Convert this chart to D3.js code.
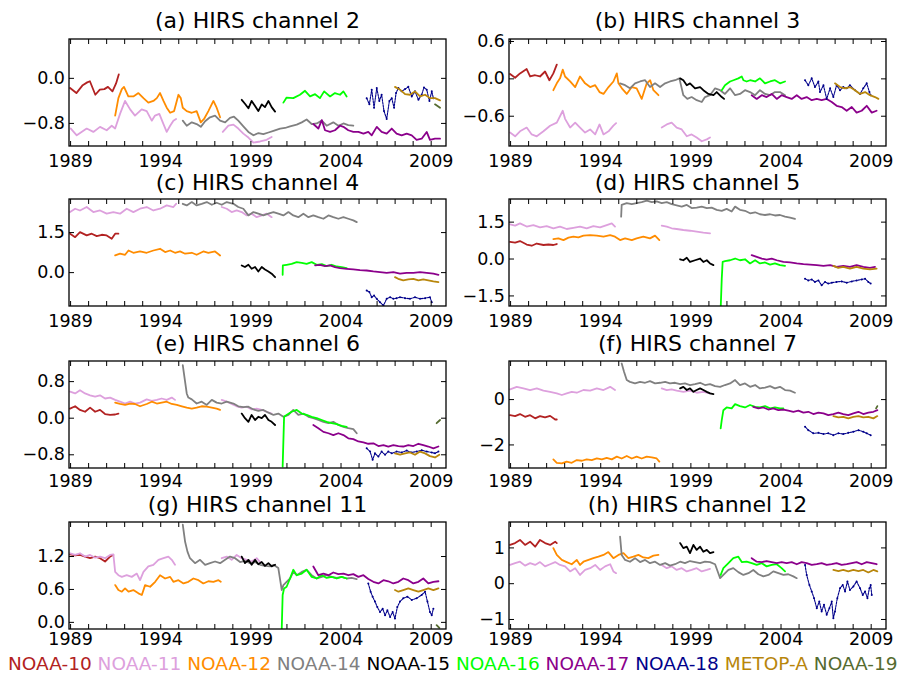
<!DOCTYPE html>
<html>
<head>
<meta charset="utf-8">
<script src="https://cdn.jsdelivr.net/npm/d3@7"></script>
<style>
  body { margin: 0; background: #fff; }
  svg text { font-family: "DejaVu Sans", "Bitstream Vera Sans", sans-serif; }
</style>
</head>
<body>
<svg id="chart" width="900" height="673"></svg>
<script>
var satellites = ["NOAA-10", "NOAA-11", "NOAA-12", "NOAA-14", "NOAA-15", "NOAA-16", "NOAA-17", "NOAA-18", "METOP-A", "NOAA-19"];
var satColors = ["#b22222", "#dda0dd", "#ff8c00", "#808080", "#000000", "#00ff00", "#8b008b", "#00008b", "#b8860b", "#556b2f"];

var panelTitles = ["(a) HIRS channel 2", "(b) HIRS channel 3", "(c) HIRS channel 4", "(d) HIRS channel 5",
                   "(e) HIRS channel 6", "(f) HIRS channel 7", "(g) HIRS channel 11", "(h) HIRS channel 12"];
var yDomains = [[-1.21, 0.69], [-1.086, 0.632], [-1.27, 2.74], [-1.93, 2.42],
                [-1.10, 1.24], [-3.04, 1.68], [-0.13, 1.82], [-1.28, 1.71]];
var yTicks = [[0, -0.8], [0.6, 0, -0.6], [1.5, 0], [1.5, 0, -1.5], [0.8, 0, -0.8], [0, -2], [1.2, 0.6, 0], [1, 0, -1]];
var yTickDecimals = [1, 1, 1, 1, 1, 0, 1, 0];
var xDomain = [1988.94, 2009.85];
var tickYears = d3.range(1989, 2010);
var labelYears = [1989, 1994, 1999, 2004, 2009];

// each series: [satellite, [[year, value], ...]]
var ch2Series = [
  ["NOAA-10", [[1989.0,-0.18],[1989.35,-0.27],[1989.7,-0.13],[1989.95,-0.08],[1990.1,-0.06],[1990.4,-0.30],[1990.65,-0.21],[1990.9,-0.2],[1991.1,-0.16],[1991.35,-0.24],[1991.55,-0.1],[1991.7,0.06]]],
  ["NOAA-11", [[1989.04,-0.90],[1989.37,-1.02],[1989.92,-0.90],[1990.29,-0.96],[1990.66,-0.87],[1991.03,-0.93],[1991.31,-0.85],[1991.5,-0.9],[1991.77,-0.64],[1992.05,-0.41],[1992.33,-0.56],[1992.6,-0.67],[1992.97,-0.56],[1993.25,-0.59],[1993.53,-0.76],[1993.71,-0.67],[1993.95,-0.64],[1994.18,-0.82],[1994.36,-0.96],[1994.55,-0.85],[1994.73,-0.76],[1994.88,-0.73]]],
  ["NOAA-11", [[1997.47,-0.96],[1997.78,-0.85],[1998.06,-0.83],[1998.33,-0.9],[1998.61,-0.99],[1998.89,-1.06],[1999.17,-1.15],[1999.54,-1.13],[1999.9,-1.10],[2000.18,-1.05]]],
  ["NOAA-12", [[1991.5,-0.67],[1991.68,-0.36],[1991.87,-0.2],[1991.99,-0.16],[1992.23,-0.33],[1992.51,-0.33],[1992.79,-0.27],[1993.07,-0.36],[1993.34,-0.44],[1993.62,-0.41],[1993.81,-0.36],[1993.99,-0.27],[1994.18,-0.41],[1994.36,-0.53],[1994.55,-0.62],[1994.77,-0.59],[1995.01,-0.3],[1995.14,-0.36],[1995.25,-0.53],[1995.47,-0.59],[1995.75,-0.62],[1996.02,-0.59],[1996.25,-0.79],[1996.43,-0.73],[1996.67,-0.59],[1996.95,-0.41],[1997.13,-0.53],[1997.32,-0.70]]],
  ["NOAA-14", [[1995.25,-0.76],[1995.47,-0.85],[1995.75,-0.79],[1996.02,-0.82],[1996.25,-0.87],[1996.49,-0.77],[1996.76,-0.70],[1997.04,-0.67],[1997.32,-0.76],[1997.6,-0.79],[1997.87,-0.71],[1998.09,-0.69],[1998.33,-0.76],[1998.61,-0.86],[1998.89,-0.96],[1999.17,-1.02],[1999.45,-0.98],[1999.72,-1.0],[2000.0,-0.97],[2000.28,-0.94],[2000.65,-0.9],[2000.92,-0.89],[2001.2,-0.86],[2001.57,-0.83],[2001.85,-0.79],[2002.12,-0.74],[2002.4,-0.82],[2002.68,-0.81],[2002.96,-0.76],[2003.23,-0.85],[2003.6,-0.79],[2003.88,-0.85],[2004.16,-0.81],[2004.43,-0.84],[2004.71,-0.85]]],
  ["NOAA-15", [[1998.52,-0.39],[1998.7,-0.46],[1998.89,-0.54],[1999.07,-0.41],[1999.26,-0.50],[1999.44,-0.59],[1999.63,-0.47],[1999.81,-0.52],[2000.0,-0.41],[2000.18,-0.52],[2000.37,-0.60]]],
  ["NOAA-16", [[2000.83,-0.44],[2001.01,-0.35],[2001.38,-0.36],[2001.75,-0.30],[2002.03,-0.23],[2002.31,-0.33],[2002.59,-0.29],[2002.86,-0.36],[2003.09,-0.24],[2003.42,-0.33],[2003.69,-0.27],[2003.97,-0.30],[2004.16,-0.24],[2004.34,-0.33]]],
  ["NOAA-17", [[2002.49,-0.82],[2002.77,-0.9],[2002.96,-0.75],[2003.14,-0.93],[2003.42,-0.96],[2003.69,-0.93],[2003.97,-0.85],[2004.16,-0.87],[2004.43,-0.93],[2004.71,-0.96],[2004.99,-0.96],[2005.27,-0.99],[2005.54,-0.96],[2005.73,-1.02],[2006.01,-0.87],[2006.28,-0.96],[2006.56,-0.99],[2006.84,-0.9],[2007.11,-0.99],[2007.39,-1.02],[2007.67,-0.99],[2007.95,-1.02],[2008.22,-1.1],[2008.5,-1.08],[2008.78,-0.96],[2008.96,-1.1],[2009.24,-1.08],[2009.52,-1.08]]],
  ["NOAA-18", [[2005.45,-0.36],[2005.6,-0.47],[2005.73,-0.21],[2005.86,-0.53],[2006.01,-0.18],[2006.15,-0.41],[2006.28,-0.3],[2006.41,-0.59],[2006.56,-0.73],[2006.71,-0.41],[2006.84,-0.36],[2006.97,-0.53],[2007.08,-0.27],[2007.21,-0.18],[2007.39,-0.24],[2007.58,-0.2],[2007.76,-0.16],[2007.95,-0.33],[2008.13,-0.24],[2008.32,-0.39],[2008.5,-0.3],[2008.63,-0.17],[2008.78,-0.21],[2008.93,-0.41],[2009.06,-0.24],[2009.15,-0.36]]],
  ["METOP-A", [[2007.02,-0.16],[2007.3,-0.21],[2007.58,-0.29],[2007.85,-0.3],[2008.13,-0.24],[2008.41,-0.33],[2008.69,-0.3],[2008.96,-0.36],[2009.24,-0.36],[2009.52,-0.4]]],
  ["NOAA-19", [[2009.24,-0.47],[2009.52,-0.53]]]
];

var ch3Series = [
  ["NOAA-10", [[1989.0,0.07],[1989.28,0.01],[1989.55,0.08],[1989.92,0.15],[1990.11,0.03],[1990.39,0.05],[1990.66,0.03],[1990.94,0.11],[1991.18,-0.03],[1991.4,0.08],[1991.59,0.22]]],
  ["NOAA-11", [[1989.0,-0.87],[1989.28,-0.93],[1989.55,-0.85],[1989.92,-0.79],[1990.2,-0.90],[1990.48,-0.93],[1990.85,-0.85],[1991.22,-0.76],[1991.59,-0.71],[1991.92,-0.52],[1992.05,-0.65],[1992.33,-0.79],[1992.61,-0.71],[1992.88,-0.79],[1993.16,-0.87],[1993.44,-0.82],[1993.72,-0.90],[1993.96,-0.74],[1994.18,-0.90],[1994.46,-0.85],[1994.73,-0.76],[1994.88,-0.72]]],
  ["NOAA-11", [[1997.41,-0.79],[1997.69,-0.74],[1997.96,-0.71],[1998.24,-0.79],[1998.52,-0.82],[1998.8,-0.93],[1999.07,-0.90],[1999.35,-0.95],[1999.63,-1.01],[1999.91,-0.98],[2000.09,-0.95]]],
  ["NOAA-12", [[1991.4,-0.19],[1991.59,-0.08],[1991.77,0],[1991.92,0.14],[1992.05,0.03],[1992.33,-0.05],[1992.61,-0.14],[1992.88,0.03],[1993.16,-0.08],[1993.44,-0.14],[1993.72,-0.11],[1993.96,-0.22],[1994.18,-0.25],[1994.46,-0.14],[1994.73,-0.05],[1994.92,0.08],[1995.01,-0.08],[1995.2,-0.16],[1995.47,-0.25],[1995.75,-0.14],[1996.02,-0.16],[1996.3,-0.33],[1996.58,-0.08],[1996.77,-0.03],[1996.95,-0.19],[1997.23,-0.27]]],
  ["NOAA-14", [[1995.1,-0.08],[1995.38,-0.11],[1995.65,-0.16],[1995.93,-0.08],[1996.21,-0.05],[1996.49,-0.03],[1996.76,-0.14],[1997.04,-0.08],[1997.32,-0.14],[1997.6,-0.08],[1997.87,-0.05],[1998.15,-0.03],[1998.39,0],[1998.61,-0.27],[1998.83,-0.33],[1999.07,-0.30],[1999.35,-0.35],[1999.63,-0.38],[1999.81,-0.3],[2000.09,-0.27],[2000.37,-0.16],[2000.65,-0.19],[2000.92,-0.25],[2001.2,-0.16],[2001.48,-0.27],[2001.75,-0.25],[2002.03,-0.19],[2002.31,-0.22],[2002.59,-0.27],[2002.86,-0.19],[2003.14,-0.25],[2003.42,-0.27],[2003.69,-0.22],[2003.97,-0.22],[2004.25,-0.27]]],
  ["NOAA-15", [[1998.43,0],[1998.61,-0.03],[1998.8,-0.11],[1998.98,-0.08],[1999.26,-0.16],[1999.54,-0.14],[1999.72,-0.19],[2000.0,-0.25],[2000.28,-0.27],[2000.46,-0.22],[2000.74,-0.3],[2000.87,-0.33]]],
  ["NOAA-16", [[2000.74,-0.19],[2000.92,-0.11],[2001.2,-0.05],[2001.39,-0.03],[2001.66,0],[2001.85,0.03],[2001.94,-0.03],[2002.12,-0.05],[2002.31,-0.03],[2002.59,-0.05],[2002.86,0],[2003.14,-0.08],[2003.42,-0.05],[2003.69,-0.03],[2003.97,-0.08],[2004.25,-0.05]]],
  ["NOAA-17", [[2002.4,-0.27],[2002.68,-0.33],[2002.96,-0.27],[2003.23,-0.3],[2003.51,-0.25],[2003.79,-0.33],[2004.06,-0.27],[2004.34,-0.3],[2004.62,-0.33],[2004.9,-0.27],[2005.17,-0.33],[2005.45,-0.3],[2005.73,-0.35],[2006.01,-0.33],[2006.28,-0.35],[2006.56,-0.33],[2006.84,-0.38],[2007.11,-0.44],[2007.39,-0.46],[2007.67,-0.52],[2007.95,-0.46],[2008.22,-0.55],[2008.5,-0.52],[2008.78,-0.44],[2009.06,-0.55],[2009.33,-0.52]]],
  ["NOAA-18", [[2005.36,-0.03],[2005.54,-0.11],[2005.73,0],[2005.91,-0.14],[2006.1,-0.05],[2006.19,-0.22],[2006.38,-0.11],[2006.56,-0.33],[2006.75,-0.16],[2006.93,-0.3],[2007.11,-0.11],[2007.3,-0.19],[2007.48,-0.14],[2007.67,-0.16],[2007.85,-0.11],[2008.13,-0.19],[2008.41,-0.25],[2008.59,-0.16],[2008.78,-0.08],[2008.93,-0.22],[2009.0,-0.27]]],
  ["METOP-A", [[2007.02,-0.08],[2007.3,-0.14],[2007.58,-0.16],[2007.85,-0.14],[2008.13,-0.19],[2008.41,-0.25],[2008.69,-0.22],[2008.96,-0.27],[2009.24,-0.3],[2009.43,-0.33]]]
];

var ch4Series = [
  ["NOAA-10", [[1989.0,1.44],[1989.28,1.31],[1989.55,1.5],[1989.92,1.375],[1990.2,1.44],[1990.48,1.35],[1990.76,1.4],[1991.03,1.375],[1991.31,1.25],[1991.5,1.44],[1991.68,1.44]]],
  ["NOAA-11", [[1989.0,2.25],[1989.28,2.375],[1989.55,2.31],[1989.92,2.44],[1990.29,2.25],[1990.66,2.31],[1991.03,2.19],[1991.4,2.25],[1991.77,2.19],[1992.14,2.375],[1992.51,2.25],[1992.88,2.375],[1993.25,2.44],[1993.62,2.31],[1993.99,2.375],[1994.36,2.5],[1994.73,2.44],[1994.88,2.56]]],
  ["NOAA-11", [[1997.41,2.44],[1997.69,2.375],[1997.96,2.25],[1998.24,2.31],[1998.52,2.25],[1998.8,2.125],[1999.07,2.19],[1999.35,2.06],[1999.63,2.125],[1999.91,2.19],[2000.18,2.06]]],
  ["NOAA-12", [[1991.5,0.625],[1991.77,0.69],[1992.05,0.65],[1992.24,0.81],[1992.51,0.725],[1992.88,0.775],[1993.25,0.725],[1993.62,0.81],[1993.99,0.875],[1994.27,0.75],[1994.55,0.81],[1994.82,0.725],[1995.1,0.775],[1995.38,0.69],[1995.75,0.725],[1996.02,0.65],[1996.39,0.775],[1996.67,0.725],[1997.04,0.775],[1997.32,0.625]]],
  ["NOAA-14", [[1995.25,2.56],[1995.47,2.5],[1995.75,2.625],[1996.02,2.5],[1996.3,2.56],[1996.58,2.625],[1996.86,2.525],[1997.13,2.6],[1997.41,2.525],[1997.69,2.625],[1998.06,2.56],[1998.33,2.44],[1998.61,2.375],[1998.89,2.125],[1999.17,2.25],[1999.44,2.19],[1999.72,2.125],[2000.0,2.19],[2000.28,2.25],[2000.55,2.19],[2000.83,2.125],[2001.11,2.25],[2001.38,2.125],[2001.66,2.06],[2001.94,2.19],[2002.22,2.06],[2002.49,2.125],[2002.77,2.06],[2003.05,2.0],[2003.33,2.125],[2003.6,2.06],[2003.88,2.0],[2004.16,2.06],[2004.43,2.0],[2004.71,1.94],[2004.9,1.875]]],
  ["NOAA-15", [[1998.52,0.25],[1998.7,0.19],[1998.89,0.275],[1999.07,0.125],[1999.26,0.19],[1999.44,0.025],[1999.63,0.19],[1999.81,0.1],[2000.0,0.025],[2000.18,-0.06],[2000.37,-0.19]]],
  ["NOAA-16", [[2000.79,-0.1],[2000.8,0.25],[2001.01,0.275],[2001.29,0.31],[2001.57,0.375],[2001.85,0.35],[2002.12,0.31],[2002.4,0.375],[2002.68,0.275],[2002.96,0.3],[2003.23,0.225],[2003.51,0.275],[2003.79,0.21],[2004.06,0.19],[2004.34,0.15]]],
  ["NOAA-17", [[2002.59,0.25],[2002.86,0.275],[2003.14,0.225],[2003.42,0.25],[2003.69,0.19],[2003.97,0.15],[2004.34,0.125],[2004.71,0.1],[2005.08,0.075],[2005.45,0.06],[2005.82,0.025],[2006.19,0],[2006.56,-0.025],[2006.93,0],[2007.3,-0.06],[2007.67,-0.025],[2008.04,-0.025],[2008.41,0],[2008.78,-0.025],[2009.15,-0.06],[2009.43,-0.1]]],
  ["NOAA-18", [[2005.45,-0.69],[2005.6,-0.75],[2005.73,-0.94],[2005.86,-0.875],[2006.01,-1.0],[2006.19,-1.125],[2006.38,-1.25],[2006.56,-1.0],[2006.75,-0.94],[2006.93,-1.0],[2007.11,-0.975],[2007.3,-0.94],[2007.58,-0.975],[2007.85,-1.0],[2008.13,-0.94],[2008.41,-1.0],[2008.69,-0.975],[2008.96,-0.94],[2009.06,-1.125]]],
  ["METOP-A", [[2007.02,-0.19],[2007.2,-0.25],[2007.48,-0.31],[2007.76,-0.275],[2008.04,-0.25],[2008.32,-0.31],[2008.59,-0.275],[2008.87,-0.31],[2009.15,-0.35],[2009.43,-0.375]]]
];

var ch5Series = [
  ["NOAA-10", [[1989.0,0.68],[1989.28,0.65],[1989.55,0.71],[1989.92,0.57],[1990.2,0.52],[1990.48,0.61],[1990.85,0.55],[1991.13,0.57],[1991.4,0.55],[1991.59,0.59]]],
  ["NOAA-11", [[1989.0,1.39],[1989.28,1.34],[1989.55,1.43],[1989.92,1.3],[1990.29,1.36],[1990.66,1.27],[1991.03,1.32],[1991.4,1.23],[1991.77,1.3],[1992.14,1.2],[1992.51,1.25],[1992.88,1.3],[1993.25,1.23],[1993.62,1.32],[1993.99,1.27],[1994.36,1.36],[1994.64,1.43],[1994.82,1.3]]],
  ["NOAA-11", [[1997.41,1.34],[1997.69,1.3],[1997.96,1.23],[1998.24,1.2],[1998.61,1.16],[1998.98,1.13],[1999.35,1.09],[1999.72,1.05],[2000.09,1.02]]],
  ["NOAA-12", [[1991.4,0.79],[1991.68,0.82],[1991.96,0.75],[1992.24,0.85],[1992.51,0.89],[1992.79,0.86],[1993.07,0.93],[1993.44,0.95],[1993.81,0.93],[1994.18,0.89],[1994.55,0.95],[1994.82,0.89],[1995.1,0.75],[1995.38,0.82],[1995.75,0.75],[1996.02,0.82],[1996.39,0.89],[1996.76,0.82],[1997.04,0.93],[1997.28,0.75]]],
  ["NOAA-14", [[1995.16,1.7],[1995.19,2.18],[1995.47,2.25],[1995.75,2.21],[1996.02,2.25],[1996.3,2.29],[1996.58,2.35],[1996.86,2.29],[1997.13,2.32],[1997.41,2.25],[1997.69,2.29],[1997.96,2.21],[1998.24,2.16],[1998.52,2.11],[1998.8,2.18],[1999.07,2.05],[1999.35,2.07],[1999.63,2.11],[1999.91,2.05],[2000.18,2.07],[2000.46,1.98],[2000.74,1.94],[2001.01,2.02],[2001.29,1.91],[2001.48,2.11],[2001.75,1.98],[2002.03,1.94],[2002.31,1.84],[2002.59,1.88],[2002.86,1.8],[2003.14,1.77],[2003.42,1.8],[2003.69,1.75],[2003.97,1.77],[2004.25,1.7],[2004.53,1.66],[2004.8,1.61]]],
  ["NOAA-15", [[1998.43,-0.03],[1998.61,-0.07],[1998.8,0.03],[1998.98,-0.14],[1999.26,-0.07],[1999.54,0],[1999.72,-0.14],[1999.91,-0.07],[2000.09,-0.2],[2000.28,-0.27]]],
  ["NOAA-16", [[2000.68,-2.05],[2000.74,-0.82],[2000.79,-0.14],[2000.92,-0.11],[2001.2,-0.07],[2001.48,0],[2001.75,-0.07],[2002.03,-0.03],[2002.31,-0.2],[2002.59,-0.07],[2002.86,-0.2],[2003.14,-0.16],[2003.42,-0.25],[2003.69,-0.2],[2003.97,-0.27],[2004.25,-0.3]]],
  ["NOAA-17", [[2002.4,0.14],[2002.68,0.07],[2002.96,0],[2003.23,-0.04],[2003.51,0],[2003.79,-0.07],[2004.16,-0.14],[2004.53,-0.16],[2004.9,-0.2],[2005.27,-0.23],[2005.64,-0.25],[2006.01,-0.27],[2006.38,-0.3],[2006.75,-0.27],[2007.11,-0.34],[2007.48,-0.3],[2007.85,-0.34],[2008.22,-0.27],[2008.59,-0.34],[2008.96,-0.38],[2009.24,-0.34]]],
  ["NOAA-18", [[2005.36,-0.82],[2005.54,-0.89],[2005.73,-0.85],[2005.91,-0.95],[2006.1,-0.89],[2006.28,-1.09],[2006.47,-0.95],[2006.65,-1.02],[2006.84,-0.98],[2007.11,-0.95],[2007.39,-0.93],[2007.67,-0.98],[2007.95,-0.93],[2008.22,-0.89],[2008.5,-0.85],[2008.69,-0.82],[2008.87,-0.95],[2009.0,-1.02]]],
  ["METOP-A", [[2006.93,-0.3],[2007.2,-0.38],[2007.48,-0.34],[2007.85,-0.41],[2008.22,-0.34],[2008.59,-0.41],[2008.96,-0.44],[2009.33,-0.41]]]
];

var ch6Series = [
  ["NOAA-10", [[1989.0,0.2],[1989.28,0.25],[1989.55,0.17],[1989.83,0.13],[1990.11,0.22],[1990.39,0.13],[1990.66,0.17],[1990.94,0.08],[1991.22,0.06],[1991.5,0.07],[1991.68,0.09]]],
  ["NOAA-11", [[1989.0,0.57],[1989.28,0.53],[1989.55,0.6],[1989.83,0.53],[1990.11,0.49],[1990.39,0.46],[1990.66,0.49],[1990.94,0.42],[1991.22,0.44],[1991.5,0.39],[1991.77,0.35],[1992.05,0.31],[1992.33,0.35],[1992.6,0.31],[1992.88,0.33],[1993.25,0.4],[1993.53,0.37],[1993.81,0.39],[1994.08,0.42],[1994.36,0.39],[1994.64,0.44],[1994.82,0.39]]],
  ["NOAA-11", [[1997.41,0.39],[1997.69,0.35],[1997.96,0.3],[1998.24,0.25],[1998.52,0.22],[1998.8,0.24],[1999.07,0.18],[1999.35,0.2],[1999.63,0.17],[1999.91,0.13],[2000.18,0.09]]],
  ["NOAA-12", [[1991.5,0.33],[1991.77,0.3],[1992.05,0.28],[1992.33,0.31],[1992.6,0.3],[1992.88,0.25],[1993.25,0.3],[1993.53,0.35],[1993.81,0.31],[1994.08,0.33],[1994.36,0.35],[1994.64,0.3],[1994.92,0.28],[1995.2,0.25],[1995.47,0.22],[1995.75,0.2],[1996.02,0.22],[1996.3,0.25],[1996.58,0.24],[1996.86,0.22],[1997.13,0.2],[1997.32,0.17]]],
  ["NOAA-14", [[1995.25,1.15],[1995.47,0.53],[1995.56,0.44],[1995.75,0.4],[1996.02,0.31],[1996.3,0.35],[1996.58,0.28],[1996.86,0.39],[1997.13,0.33],[1997.41,0.31],[1997.69,0.35],[1998.06,0.31],[1998.33,0.25],[1998.61,0.23],[1998.89,0.24],[1999.17,0.18],[1999.44,0.15],[1999.72,0.17],[2000.0,0.11],[2000.28,0.06],[2000.55,0.09],[2000.83,0.02],[2001.11,0.06],[2001.38,0.17],[2001.66,0.06],[2001.94,0.09],[2002.22,0.02],[2002.49,-0.01],[2002.77,-0.05],[2003.05,-0.09],[2003.33,-0.12],[2003.6,-0.09],[2003.88,-0.16],[2004.16,-0.2],[2004.43,-0.23],[2004.71,-0.25],[2004.9,-0.34]]],
  ["NOAA-15", [[1998.52,0.09],[1998.7,-0.01],[1998.89,-0.09],[1999.07,0.06],[1999.26,-0.05],[1999.44,0.02],[1999.63,-0.01],[1999.81,0.06],[2000.0,-0.05],[2000.18,-0.09],[2000.37,-0.16]]],
  ["NOAA-16", [[2000.79,-1.07],[2000.87,0.02],[2001.01,0.06],[2001.29,0.13],[2001.57,0.17],[2001.85,0.09],[2002.12,0.06],[2002.4,0.02],[2002.68,-0.01],[2002.96,-0.05],[2003.23,-0.09],[2003.51,-0.12],[2003.79,-0.14],[2004.06,-0.18],[2004.34,-0.2]]],
  ["NOAA-17", [[2002.49,-0.16],[2002.77,-0.23],[2003.05,-0.31],[2003.33,-0.34],[2003.6,-0.38],[2003.88,-0.34],[2004.16,-0.38],[2004.43,-0.45],[2004.71,-0.47],[2004.99,-0.52],[2005.27,-0.54],[2005.54,-0.57],[2005.82,-0.56],[2006.1,-0.62],[2006.38,-0.6],[2006.65,-0.63],[2006.93,-0.6],[2007.21,-0.62],[2007.48,-0.63],[2007.76,-0.6],[2008.04,-0.62],[2008.32,-0.57],[2008.59,-0.6],[2008.87,-0.63],[2009.15,-0.67],[2009.43,-0.63]]],
  ["NOAA-18", [[2005.45,-0.67],[2005.64,-0.74],[2005.78,-0.92],[2005.91,-0.78],[2006.1,-0.85],[2006.28,-0.74],[2006.47,-0.81],[2006.65,-0.74],[2006.84,-0.78],[2007.11,-0.74],[2007.39,-0.76],[2007.67,-0.72],[2007.95,-0.76],[2008.22,-0.74],[2008.5,-0.71],[2008.78,-0.74],[2009.06,-0.76],[2009.24,-0.78],[2009.43,-0.74]]],
  ["METOP-A", [[2007.02,-0.78],[2007.3,-0.81],[2007.58,-0.78],[2007.85,-0.76],[2008.13,-0.81],[2008.41,-0.74],[2008.69,-0.78],[2008.96,-0.84],[2009.24,-0.87],[2009.48,-0.81]]],
  ["NOAA-19", [[2009.33,-0.12],[2009.52,-0.05]]]
];

var ch7Series = [
  ["NOAA-10", [[1989.0,-0.71],[1989.28,-0.75],[1989.55,-0.66],[1989.83,-0.78],[1990.11,-0.71],[1990.39,-0.85],[1990.66,-0.75],[1990.94,-0.81],[1991.22,-0.74],[1991.5,-0.9],[1991.59,-0.9]]],
  ["NOAA-11", [[1989.0,0.43],[1989.37,0.54],[1989.74,0.47],[1990.11,0.4],[1990.48,0.47],[1990.85,0.37],[1991.22,0.32],[1991.59,0.25],[1991.87,0.18],[1992.14,0.25],[1992.42,0.32],[1992.7,0.28],[1993.07,0.4],[1993.44,0.37],[1993.81,0.47],[1994.18,0.4],[1994.55,0.54],[1994.82,0.4]]],
  ["NOAA-11", [[1997.41,0.47],[1997.69,0.4],[1997.96,0.43],[1998.24,0.37],[1998.61,0.32],[1998.98,0.37],[1999.35,0.28],[1999.72,0.32],[2000.09,0.25]]],
  ["NOAA-12", [[1991.4,-2.66],[1991.59,-2.81],[1991.87,-2.84],[1992.14,-2.76],[1992.42,-2.81],[1992.7,-2.69],[1992.98,-2.72],[1993.25,-2.66],[1993.53,-2.69],[1993.81,-2.62],[1994.09,-2.66],[1994.36,-2.59],[1994.64,-2.66],[1994.92,-2.54],[1995.19,-2.62],[1995.47,-2.51],[1995.75,-2.62],[1996.02,-2.54],[1996.3,-2.62],[1996.58,-2.54],[1996.86,-2.57],[1997.13,-2.62],[1997.28,-2.76]]],
  ["NOAA-14", [[1995.19,1.57],[1995.32,1.21],[1995.47,0.84],[1995.65,0.76],[1995.93,0.69],[1996.21,0.76],[1996.49,0.72],[1996.76,0.79],[1997.04,0.69],[1997.32,0.72],[1997.6,0.76],[1997.87,0.69],[1998.15,0.72],[1998.43,0.66],[1998.7,0.69],[1998.98,0.62],[1999.26,0.66],[1999.54,0.72],[1999.81,0.62],[2000.09,0.66],[2000.37,0.57],[2000.65,0.54],[2000.92,0.62],[2001.2,0.69],[2001.48,0.84],[2001.75,0.62],[2002.03,0.69],[2002.31,0.54],[2002.59,0.62],[2002.86,0.47],[2003.14,0.51],[2003.42,0.57],[2003.69,0.47],[2003.97,0.54],[2004.25,0.4],[2004.53,0.37],[2004.8,0.28]]],
  ["NOAA-15", [[1998.43,0.47],[1998.61,0.54],[1998.8,0.4],[1998.98,0.47],[1999.17,0.32],[1999.35,0.4],[1999.54,0.47],[1999.72,0.4],[1999.91,0.32],[2000.09,0.25],[2000.28,0.22]]],
  ["NOAA-16", [[2000.68,-1.29],[2000.74,-0.93],[2000.83,-0.49],[2001.01,-0.37],[2001.29,-0.41],[2001.48,-0.22],[2001.75,-0.31],[2002.03,-0.37],[2002.31,-0.26],[2002.59,-0.34],[2002.86,-0.37],[2003.14,-0.31],[2003.42,-0.41],[2003.69,-0.37],[2003.97,-0.41],[2004.16,-0.41]]],
  ["NOAA-17", [[2002.49,-0.34],[2002.77,-0.41],[2003.05,-0.37],[2003.32,-0.46],[2003.6,-0.41],[2003.88,-0.49],[2004.16,-0.46],[2004.43,-0.51],[2004.71,-0.56],[2004.99,-0.51],[2005.27,-0.6],[2005.54,-0.56],[2005.82,-0.66],[2006.1,-0.6],[2006.38,-0.63],[2006.65,-0.71],[2006.93,-0.66],[2007.21,-0.6],[2007.48,-0.66],[2007.76,-0.71],[2008.04,-0.63],[2008.32,-0.56],[2008.59,-0.66],[2008.87,-0.6],[2009.15,-0.56],[2009.37,-0.49]]],
  ["NOAA-18", [[2005.36,-1.22],[2005.54,-1.37],[2005.82,-1.51],[2006.1,-1.49],[2006.38,-1.54],[2006.65,-1.51],[2006.93,-1.59],[2007.21,-1.51],[2007.48,-1.54],[2007.76,-1.49],[2008.04,-1.44],[2008.32,-1.37],[2008.59,-1.44],[2008.78,-1.51],[2009.0,-1.59]]],
  ["METOP-A", [[2006.93,-0.75],[2007.21,-0.81],[2007.48,-0.78],[2007.76,-0.85],[2008.04,-0.78],[2008.32,-0.75],[2008.59,-0.81],[2008.87,-0.78],[2009.15,-0.85],[2009.37,-0.75]]],
  ["NOAA-19", [[2009.3,-0.41],[2009.37,-0.31]]]
];

var ch11Series = [
  ["NOAA-10", [[1989.0,1.23],[1989.28,1.21],[1989.55,1.22],[1989.83,1.19],[1990.11,1.16],[1990.39,1.19],[1990.66,1.16],[1990.94,1.1],[1991.22,1.19],[1991.4,1.22]]],
  ["NOAA-11", [[1989.0,1.25],[1989.28,1.22],[1989.55,1.25],[1989.83,1.19],[1990.11,1.22],[1990.39,1.17],[1990.66,1.19],[1990.94,1.16],[1991.22,1.22],[1991.4,1.23],[1991.5,0.91],[1991.68,0.85],[1991.87,0.82],[1992.14,0.85],[1992.42,0.82],[1992.7,0.88],[1992.88,0.76],[1993.07,0.91],[1993.34,1.01],[1993.62,1.04],[1993.9,1.13],[1994.18,1.16],[1994.45,1.19],[1994.64,1.13],[1994.82,1.04]]],
  ["NOAA-11", [[1997.41,1.16],[1997.69,1.19],[1997.96,1.13],[1998.24,1.22],[1998.52,1.16],[1998.8,1.13],[1999.07,1.1],[1999.35,1.16],[1999.54,1.09]]],
  ["NOAA-12", [[1991.5,0.67],[1991.68,0.58],[1991.87,0.55],[1992.05,0.61],[1992.24,0.55],[1992.51,0.58],[1992.79,0.52],[1992.98,0.49],[1993.16,0.67],[1993.44,0.64],[1993.72,0.73],[1993.99,0.85],[1994.27,0.79],[1994.55,0.82],[1994.73,0.73],[1995.01,0.76],[1995.29,0.7],[1995.56,0.73],[1995.84,0.79],[1996.12,0.76],[1996.39,0.7],[1996.67,0.74],[1996.95,0.73],[1997.23,0.76],[1997.36,0.73]]],
  ["NOAA-14", [[1995.25,1.77],[1995.38,1.46],[1995.51,1.28],[1995.65,1.16],[1995.93,1.07],[1996.21,1.13],[1996.49,1.04],[1996.76,1.07],[1997.04,1.1],[1997.32,1.07],[1997.6,1.13],[1997.87,1.19],[1998.15,1.16],[1998.43,1.09],[1998.7,1.11],[1998.98,1.07],[1999.26,1.09],[1999.54,1.04],[1999.81,1.02],[2000.09,1.01],[2000.28,1.04],[2000.55,0.98],[2000.74,0.58],[2000.83,0.67],[2001.01,0.73],[2001.2,0.79],[2001.38,0.91],[2001.57,0.85],[2001.85,0.91],[2002.12,0.95],[2002.4,0.85],[2002.68,0.79],[2002.96,0.82],[2003.23,0.85],[2003.51,0.82],[2003.79,0.8],[2004.06,0.82],[2004.34,0.79],[2004.62,0.8],[2004.9,0.78]]],
  ["NOAA-15", [[1998.52,1.19],[1998.7,1.07],[1998.89,1.13],[1999.07,1.04],[1999.26,1.13],[1999.44,1.05],[1999.63,1.09],[1999.81,1.02],[2000.0,1.07],[2000.18,1.01],[2000.37,1.04]]],
  ["NOAA-16", [[2000.74,-0.12],[2000.79,0.49],[2000.87,0.61],[2001.01,0.64],[2001.2,0.79],[2001.38,0.95],[2001.57,0.85],[2001.85,0.88],[2002.12,0.95],[2002.4,0.82],[2002.68,0.79],[2002.96,0.85],[2003.23,0.8],[2003.51,0.82],[2003.79,0.79],[2004.06,0.82],[2004.34,0.79]]],
  ["NOAA-17", [[2002.49,1.01],[2002.77,0.85],[2003.05,0.88],[2003.33,0.85],[2003.6,0.9],[2003.88,0.87],[2004.16,0.88],[2004.43,0.85],[2004.71,0.87],[2004.99,0.82],[2005.27,0.85],[2005.54,0.78],[2005.82,0.73],[2006.1,0.7],[2006.38,0.76],[2006.65,0.74],[2006.93,0.7],[2007.21,0.73],[2007.48,0.79],[2007.76,0.76],[2008.04,0.7],[2008.32,0.73],[2008.59,0.79],[2008.87,0.7],[2009.15,0.73],[2009.43,0.74]]],
  ["NOAA-18", [[2005.54,0.7],[2005.67,0.55],[2005.78,0.46],[2005.91,0.37],[2006.04,0.27],[2006.19,0.18],[2006.34,0.24],[2006.47,0.12],[2006.6,0.21],[2006.75,0.09],[2006.89,0.18],[2007.02,0.06],[2007.15,0.27],[2007.3,0.37],[2007.48,0.43],[2007.71,0.46],[2007.95,0.4],[2008.22,0.43],[2008.5,0.49],[2008.69,0.55],[2008.82,0.37],[2008.96,0.18],[2009.06,0.12],[2009.15,0.24]]],
  ["METOP-A", [[2007.02,0.58],[2007.21,0.55],[2007.48,0.58],[2007.76,0.61],[2008.04,0.58],[2008.32,0.55],[2008.59,0.58],[2008.87,0.61],[2009.15,0.58],[2009.43,0.61]]],
  ["NOAA-19", [[2009.33,-0.06],[2009.48,-0.11]]]
];

var ch12Series = [
  ["NOAA-10", [[1989.0,1.07],[1989.28,1.12],[1989.55,1.21],[1989.83,1.07],[1990.11,1.16],[1990.39,1.02],[1990.66,1.21],[1990.94,1.12],[1991.22,1.07],[1991.5,1.16],[1991.59,1.12]]],
  ["NOAA-11", [[1989.0,0.51],[1989.28,0.56],[1989.55,0.6],[1989.83,0.49],[1990.11,0.56],[1990.39,0.51],[1990.66,0.59],[1990.94,0.47],[1991.22,0.53],[1991.5,0.59],[1991.77,0.51],[1992.05,0.47],[1992.33,0.33],[1992.61,0.42],[1992.88,0.23],[1993.16,0.37],[1993.44,0.42],[1993.72,0.51],[1993.99,0.37],[1994.27,0.47],[1994.55,0.53],[1994.73,0.33],[1994.88,0.28]]],
  ["NOAA-11", [[1997.41,0.51],[1997.69,0.42],[1997.96,0.47],[1998.24,0.37],[1998.52,0.42],[1998.8,0.33],[1999.07,0.37],[1999.35,0.42],[1999.63,0.33],[1999.91,0.37],[2000.09,0.4]]],
  ["NOAA-12", [[1991.4,0.98],[1991.59,0.79],[1991.87,0.65],[1992.14,0.59],[1992.42,0.53],[1992.7,0.65],[1992.88,0.51],[1993.07,0.6],[1993.35,0.65],[1993.62,0.7],[1993.9,0.74],[1994.18,0.79],[1994.45,0.87],[1994.73,0.7],[1995.01,0.79],[1995.29,0.84],[1995.56,0.7],[1995.84,0.74],[1996.12,0.79],[1996.39,0.72],[1996.67,0.7],[1996.95,0.77],[1997.23,0.79]]],
  ["NOAA-14", [[1995.1,1.3],[1995.19,0.79],[1995.38,0.65],[1995.65,0.6],[1995.93,0.7],[1996.21,0.59],[1996.49,0.65],[1996.76,0.56],[1997.04,0.6],[1997.32,0.51],[1997.6,0.56],[1997.87,0.49],[1998.15,0.53],[1998.43,0.6],[1998.7,0.56],[1998.98,0.62],[1999.26,0.59],[1999.54,0.56],[1999.81,0.6],[2000.09,0.59],[2000.37,0.53],[2000.65,0.14],[2000.83,0.23],[2001.11,0.37],[2001.38,0.42],[2001.66,0.31],[2001.94,0.23],[2002.22,0.28],[2002.49,0.37],[2002.77,0.25],[2003.05,0.19],[2003.33,0.23],[2003.6,0.33],[2003.88,0.28],[2004.16,0.23],[2004.43,0.25],[2004.71,0.19],[2004.9,0.14]]],
  ["NOAA-15", [[1998.43,1.12],[1998.61,0.98],[1998.8,1.02],[1998.98,0.84],[1999.17,1.07],[1999.35,0.93],[1999.54,1.02],[1999.72,0.88],[1999.91,0.93],[2000.09,0.84],[2000.28,0.87]]],
  ["NOAA-16", [[2000.68,0.23],[2000.83,0.42],[2001.11,0.56],[2001.38,0.7],[2001.66,0.74],[2001.85,0.59],[2002.12,0.6],[2002.4,0.56],[2002.68,0.51],[2002.96,0.56],[2003.23,0.47],[2003.51,0.51],[2003.79,0.53],[2004.06,0.42],[2004.25,0.33]]],
  ["NOAA-17", [[2002.4,0.7],[2002.68,0.6],[2002.96,0.59],[2003.23,0.62],[2003.51,0.59],[2003.79,0.56],[2004.06,0.59],[2004.34,0.56],[2004.62,0.59],[2004.9,0.53],[2005.17,0.59],[2005.45,0.56],[2005.73,0.51],[2006.01,0.53],[2006.28,0.56],[2006.56,0.51],[2006.84,0.53],[2007.11,0.56],[2007.39,0.51],[2007.67,0.53],[2007.95,0.56],[2008.22,0.59],[2008.5,0.53],[2008.78,0.59],[2009.06,0.56],[2009.33,0.53]]],
  ["NOAA-18", [[2005.36,0.51],[2005.45,0.23],[2005.6,-0.05],[2005.73,-0.23],[2005.86,-0.42],[2006.01,-0.7],[2006.15,-0.51],[2006.28,-0.79],[2006.41,-0.6],[2006.56,-0.88],[2006.71,-0.7],[2006.84,-0.51],[2006.93,-0.98],[2007.02,-0.79],[2007.15,-0.42],[2007.3,-0.14],[2007.45,-0.05],[2007.58,-0.23],[2007.71,0.05],[2007.85,-0.19],[2008.04,-0.09],[2008.22,0.05],[2008.41,-0.14],[2008.56,-0.33],[2008.69,-0.23],[2008.82,-0.42],[2008.93,-0.14],[2009.0,-0.05],[2009.06,-0.33]]],
  ["METOP-A", [[2006.93,0.37],[2007.21,0.34],[2007.48,0.37],[2007.76,0.33],[2008.04,0.37],[2008.32,0.34],[2008.59,0.37],[2008.87,0.3],[2009.15,0.37],[2009.37,0.33]]]
];

var panelSeries = [ch2Series, ch3Series, ch4Series, ch5Series, ch6Series, ch7Series, ch11Series, ch12Series];

// layout
var colLeft = [69, 509];
var plotW = 377, plotH = 107;
var rowTop = [39, 199, 361, 522];
var titleBase = [28, 190, 351, 512];
var xLabelOffset = [21, 21, 19, 16];
var tickFont = 17.5;

var svg = d3.select('#chart');
var x = d3.scaleLinear().domain(xDomain).range([0, plotW]);

var line = d3.line()
  .x(function (d) { return x(d[0]); });

function colorOf(sat) {
  return satColors[satellites.indexOf(sat)];
}

panelTitles.forEach(function (title, i) {
  var col = i % 2, row = Math.floor(i / 2);
  var left = colLeft[col], top = rowTop[row];
  var y = d3.scaleLinear().domain(yDomains[i]).range([plotH, 0]);
  var g = svg.append('g').attr('transform', 'translate(' + left + ',' + top + ')');

  g.append('clipPath').attr('id', 'clip' + i)
    .append('rect').attr('width', plotW).attr('height', plotH);

  var plot = g.append('g').attr('clip-path', 'url(#clip' + i + ')');
  line.y(function (d) { return y(d[1]); });

  panelSeries[i].forEach(function (s) {
    var isScatter = s[0] === "NOAA-18";
    plot.append('path')
      .attr('d', line(s[1]))
      .attr('fill', 'none')
      .attr('stroke', colorOf(s[0]))
      .attr('stroke-width', isScatter ? 1.1 : 1.8)
      .attr('stroke-linejoin', 'round')
      .attr('stroke-linecap', 'round')
      .attr('stroke-dasharray', isScatter ? '2,1' : null);
    if (isScatter) {
      plot.selectAll(null).data(s[1]).enter().append('circle')
        .attr('cx', function (d) { return x(d[0]); })
        .attr('cy', function (d) { return y(d[1]); })
        .attr('r', 1)
        .attr('fill', colorOf(s[0]));
    }
  });

  // ticks on all four sides, pointing inward
  var fmt = d3.format('.' + yTickDecimals[i] + 'f');
  var xb = g.append('g').attr('transform', 'translate(0,' + plotH + ')')
    .call(d3.axisBottom(x).tickValues(tickYears).tickSize(-5)
      .tickFormat(function (d) { return labelYears.indexOf(d) >= 0 ? d : ''; }));
  xb.selectAll('text').attr('y', xLabelOffset[row]).attr('dy', null);
  g.append('g').call(d3.axisTop(x).tickValues(tickYears).tickSize(-5).tickFormat(''));
  g.append('g').call(d3.axisLeft(y).tickValues(yTicks[i]).tickSize(-5).tickPadding(4).tickFormat(fmt));
  g.append('g').attr('transform', 'translate(' + plotW + ',0)')
    .call(d3.axisRight(y).tickValues(yTicks[i]).tickSize(-5).tickFormat(''));

  g.selectAll('.domain').remove();
  g.selectAll('.tick line').attr('stroke', '#000').attr('stroke-width', 1);
  g.selectAll('.tick text').attr('font-size', tickFont).attr('fill', '#000')
    .style('font-family', '"DejaVu Sans", sans-serif');

  g.append('rect')
    .attr('width', plotW).attr('height', plotH)
    .attr('fill', 'none').attr('stroke', '#000').attr('stroke-width', 1.3);

  svg.append('text')
    .attr('x', left + plotW / 2).attr('y', titleBase[row])
    .attr('text-anchor', 'middle')
    .attr('font-size', 22)
    .attr('fill', '#000')
    .text(title);
});

// legend line of coloured names
var legend = svg.append('text')
  .attr('x', 8).attr('y', 670)
  .attr('font-size', 18.5)
  .style('white-space', 'pre');
satellites.forEach(function (sat, k) {
  legend.append('tspan')
    .attr('fill', satColors[k])
    .text(sat + (k < satellites.length - 1 ? ' ' : ''));
});
</script>
</body>
</html>
